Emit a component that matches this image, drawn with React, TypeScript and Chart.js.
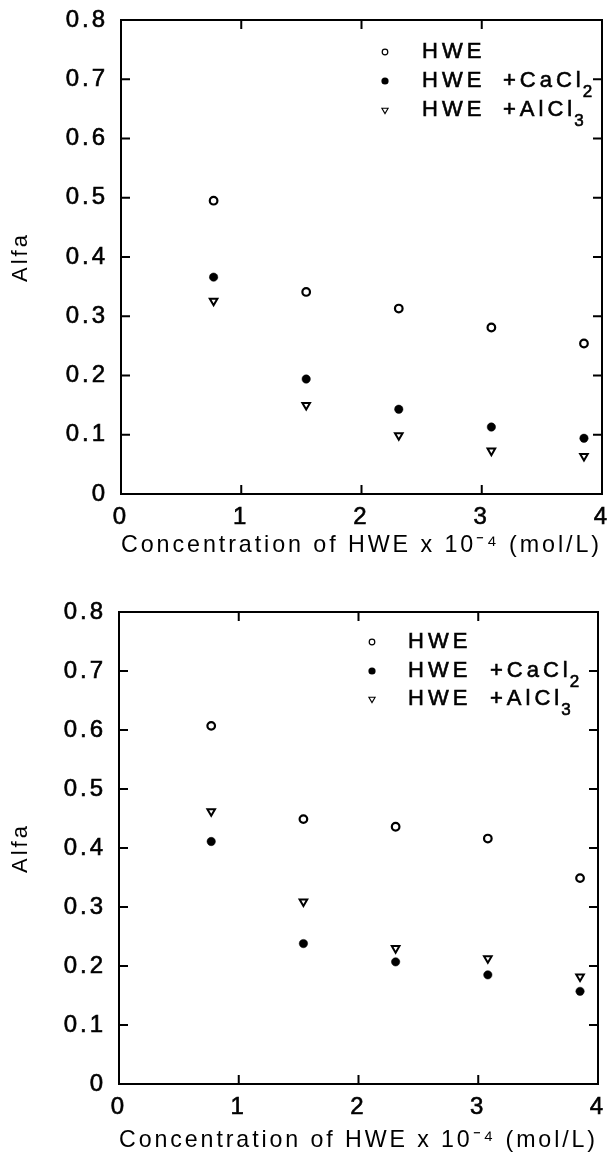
import React, { useEffect, useRef } from "react";
import { Chart, registerables } from "chart.js";

Chart.register(...registerables);

// ---- data ----
const xValues = [0.77, 1.54, 2.31, 3.08, 3.85];

const topHWE = [0.495, 0.341, 0.313, 0.281, 0.254];
const topCaCl2 = [0.366, 0.194, 0.143, 0.113, 0.094];
const topAlCl3 = [0.326, 0.150, 0.099, 0.073, 0.064];

const bottomHWE = [0.607, 0.449, 0.436, 0.416, 0.349];
const bottomCaCl2 = [0.411, 0.238, 0.207, 0.185, 0.157];
const bottomAlCl3 = [0.462, 0.309, 0.230, 0.213, 0.182];

const xMin = 0;
const xMax = 4;
const xStep = 1;
const yMin = 0;
const yMax = 0.8;
const yStep = 0.1;

const seriesNames = ["HWE", "HWE", "HWE"];
const seriesAdditives = ["", "+CaCl", "+AlCl"];
const seriesSubscripts = ["", "2", "3"];
const xTitle = "Concentration of HWE x 10\u207B\u2074 (mol/L)";
const yTitle = "Alfa";

const FONT = "'Liberation Sans', Arial, Helvetica, sans-serif";

type PanelCfg = {
  hwe: number[];
  ca: number[];
  al: number[];
  padTop: number;
  padRight: number;
  yWidth: number;
  xHeight: number;
  xTitlePadBottom: number;
  legend: { markerX: number; textX: number; plusX: number; rows: number[] };
};

const toPoints = (ys: number[]) => xValues.map((x, i) => ({ x, y: ys[i] }));

function drawMarker(ctx: CanvasRenderingContext2D, kind: number, x: number, y: number) {
  ctx.save();
  ctx.strokeStyle = "#000";
  ctx.fillStyle = "#000";
  if (kind === 0) {
    ctx.lineWidth = 1.2;
    ctx.beginPath();
    ctx.arc(x, y, 2.8, 0, Math.PI * 2);
    ctx.fillStyle = "#fff";
    ctx.fill();
    ctx.stroke();
  } else if (kind === 1) {
    ctx.beginPath();
    ctx.arc(x, y, 3.6, 0, Math.PI * 2);
    ctx.fill();
  } else {
    const r = 3.6;
    ctx.lineWidth = 1.1;
    ctx.beginPath();
    ctx.moveTo(x - r * 0.866, y - r * 0.5);
    ctx.lineTo(x + r * 0.866, y - r * 0.5);
    ctx.lineTo(x, y + r);
    ctx.closePath();
    ctx.fillStyle = "#fff";
    ctx.fill();
    ctx.stroke();
  }
  ctx.restore();
}

function heavyText(ctx: CanvasRenderingContext2D, s: string, x: number, y: number) {
  ctx.fillText(s, x, y);
  ctx.lineWidth = 0.6;
  ctx.strokeStyle = "#000";
  ctx.strokeText(s, x, y);
}

const framePlugin = {
  id: "framePlugin",
  beforeDraw(chart: any) {
    (chart.ctx as any).letterSpacing = "3px";
  },
  afterDraw(chart: any, _args: any, opts: any) {
    const { ctx, chartArea: a, scales } = chart;
    const xs = scales.x;
    const ys = scales.y;
    ctx.save();
    (ctx as any).letterSpacing = "0px";
    ctx.strokeStyle = "#000";
    ctx.lineWidth = 2;
    ctx.strokeRect(a.left, a.top, a.right - a.left, a.bottom - a.top);
    const L = 9;
    ctx.beginPath();
    xs.ticks.forEach((t: any) => {
      const px = xs.getPixelForValue(t.value);
      ctx.moveTo(px, a.bottom);
      ctx.lineTo(px, a.bottom - L);
      ctx.moveTo(px, a.top);
      ctx.lineTo(px, a.top + L);
    });
    ys.ticks.forEach((t: any) => {
      const py = ys.getPixelForValue(t.value);
      ctx.moveTo(a.left, py);
      ctx.lineTo(a.left + L, py);
      ctx.moveTo(a.right, py);
      ctx.lineTo(a.right - L, py);
    });
    ctx.stroke();

    // legend
    const lg = opts.legend;
    if (lg) {
      ctx.fillStyle = "#000";
      ctx.textBaseline = "middle";
      lg.rows.forEach((ry: number, i: number) => {
        const y = a.top + ry;
        drawMarker(ctx, i, a.left + lg.markerX, y);
        (ctx as any).letterSpacing = "4px";
        ctx.font = `22px ${FONT}`;
        ctx.textAlign = "left";
        heavyText(ctx, seriesNames[i], a.left + lg.textX, y);
        if (seriesAdditives[i]) {
          const px = a.left + lg.plusX;
          heavyText(ctx, seriesAdditives[i], px, y);
          const w = ctx.measureText(seriesAdditives[i]).width;
          ctx.font = `17px ${FONT}`;
          (ctx as any).letterSpacing = "0px";
          heavyText(ctx, seriesSubscripts[i], px + w - 2, y + 11);
        }
      });
    }
    ctx.restore();
  },
};

function Panel({ cfg, top }: { cfg: PanelCfg; top: number }) {
  const ref = useRef<HTMLCanvasElement | null>(null);
  useEffect(() => {
    if (!ref.current) return;
    const tickFont = { family: FONT, size: 24 };
    const chart = new Chart(ref.current, {
      type: "scatter",
      data: {
        datasets: [
          {
            label: "HWE",
            data: toPoints(cfg.hwe),
            pointStyle: "circle",
            pointRadius: 3.8,
            pointBorderWidth: 2.2,
            pointBackgroundColor: "#fff",
            pointBorderColor: "#000",
          },
          {
            label: "HWE +CaCl2",
            data: toPoints(cfg.ca),
            pointStyle: "circle",
            pointRadius: 4.2,
            pointBorderWidth: 0.5,
            pointBackgroundColor: "#000",
            pointBorderColor: "#000",
          },
          {
            label: "HWE +AlCl3",
            data: toPoints(cfg.al),
            pointStyle: "triangle",
            rotation: 180,
            pointRadius: 4.4,
            pointBorderWidth: 2,
            pointBackgroundColor: "#fff",
            pointBorderColor: "#000",
          } as any,
        ],
      },
      options: {
        animation: false,
        responsive: false,
        devicePixelRatio: 1,
        layout: { padding: { top: cfg.padTop, right: cfg.padRight, left: 0, bottom: 0 } },
        plugins: {
          legend: { display: false },
          tooltip: { enabled: false },
          framePlugin: { legend: cfg.legend },
        } as any,
        scales: {
          x: {
            type: "linear",
            min: xMin,
            max: xMax,
            grid: { display: false, drawTicks: false },
            border: { display: false },
            ticks: {
              stepSize: xStep,
              color: "#000",
              font: tickFont,
              padding: 9,
              maxRotation: 0,
              textStrokeColor: "#000",
              textStrokeWidth: 0.6,
              callback: (v: any) => String(v),
            },
            title: {
              display: true,
              text: xTitle,
              color: "#000",
              font: { family: FONT, size: 24 },
              padding: { top: 0, bottom: cfg.xTitlePadBottom },
            },
            afterFit(s: any) {
              s.height = cfg.xHeight;
              s.paddingLeft = 0;
              s.paddingRight = 0;
            },
          },
          y: {
            type: "linear",
            min: yMin,
            max: yMax,
            grid: { display: false, drawTicks: false },
            border: { display: false },
            ticks: {
              stepSize: yStep,
              color: "#000",
              font: tickFont,
              padding: 13,
              textStrokeColor: "#000",
              textStrokeWidth: 0.6,
              callback: (v: any) => (Math.abs(Number(v)) < 1e-9 ? "0" : Number(v).toFixed(1)),
            },
            title: {
              display: true,
              text: yTitle,
              color: "#000",
              font: { family: FONT, size: 22 },
              padding: { top: 8, bottom: 0 },
            },
            afterFit(s: any) {
              s.width = cfg.yWidth;
              s.paddingTop = 0;
              s.paddingBottom = 0;
            },
          },
        },
      } as any,
      plugins: [framePlugin as any],
    });
    return () => chart.destroy();
  }, [cfg]);
  return (
    <div style={{ position: "absolute", left: 0, top, width: 610, height: 580 }}>
      <canvas ref={ref} width={610} height={580} style={{ display: "block", width: 610, height: 580 }} />
    </div>
  );
}

const topCfg: PanelCfg = {
  hwe: topHWE,
  ca: topCaCl2,
  al: topAlCl3,
  padTop: 20,
  padRight: 8,
  yWidth: 121,
  xHeight: 86,
  xTitlePadBottom: 20,
  legend: { markerX: 264, textX: 301, plusX: 382, rows: [32, 61, 90] },
};

const bottomCfg: PanelCfg = {
  hwe: bottomHWE,
  ca: bottomCaCl2,
  al: bottomAlCl3,
  padTop: 32,
  padRight: 12,
  yWidth: 119,
  xHeight: 76,
  xTitlePadBottom: 5,
  legend: { markerX: 253, textX: 289, plusX: 371, rows: [30, 59, 87] },
};

export default function App() {
  return (
    <div style={{ position: "absolute", left: 0, top: 0, width: 610, height: 1160, background: "#fff" }}>
      <Panel cfg={topCfg} top={0} />
      <Panel cfg={bottomCfg} top={580} />
    </div>
  );
}
